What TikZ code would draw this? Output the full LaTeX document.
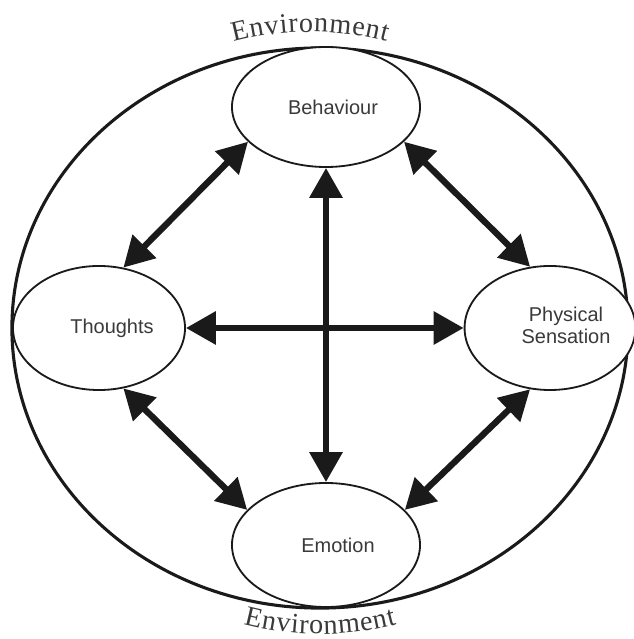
\documentclass[tikz,border=0pt]{standalone}
\usepackage{fontspec}
\setmainfont{Liberation Sans}
\newfontfamily\envfont{Liberation Serif}
\usetikzlibrary{arrows.meta, shapes.geometric, decorations.text}
\definecolor{cbtInk}{HTML}{1A1A1A}
\definecolor{cbtText}{HTML}{3A3A3A}
\newcommand{\envstyle}{\envfont\fontsize{20}{22}\selectfont}

\begin{document}
\begin{tikzpicture}[
    x=0.025cm, y=0.025cm,
    part/.style={ellipse, draw=cbtInk, line width=1.3pt, fill=white,
                 inner sep=0pt, minimum height=3.1cm,
                 font=\fontsize{14.2}{15.6}\selectfont\color{cbtText}},
    link/.style={{Triangle[length=0.75cm, width=0.8cm]}-{Triangle[length=0.75cm, width=0.8cm]},
                 line width=4.5pt, draw=cbtInk},
    envline/.style={draw=cbtInk, line width=2.2pt},
    envtext/.style={decorate, decoration={text along path, text color=cbtText,
                 text={|\envstyle|Environment}, text align=fit to path}},
  ]
    \useasboundingbox (0,0) rectangle (633,639);

    \draw[envline] (320,311) ellipse [x radius=7.7cm, y radius=7cm];

    \node[part, minimum width=4.7cm, minimum height=3cm] (behaviour) at (326,532) {\hspace*{0.35cm}Behaviour};
    \node[part, minimum width=4.7cm] (emotion) at (326,94) {\hspace*{0.6cm}Emotion};
    \node[part, minimum width=4.3cm] (thoughts) at (99,311) {\hspace*{0.65cm}Thoughts};
    \node[part, minimum width=4.25cm] (sensation) at (550,311)
      {\hspace*{0.8cm}\begin{tabular}{@{}c@{}}Physical\\Sensation\end{tabular}};

    \draw[link] (behaviour) -- (emotion);
    \draw[link] (thoughts) -- (sensation);
    \draw[link] (behaviour.204) -- (thoughts.68);
    \draw[link] (behaviour.336) -- (sensation.108);
    \draw[link] (emotion.156) -- (thoughts.292);
    \draw[link] (emotion.24) -- (sensation.252);

    \path[envtext] (310,307) ++(104.8:7.5cm) arc[start angle=104.8, end angle=75.2, radius=7.5cm];
    \path[envtext] (320,305) ++(255.2:7.5cm) arc[start angle=255.2, end angle=284.8, radius=7.5cm];
  \end{tikzpicture}
\end{document}
